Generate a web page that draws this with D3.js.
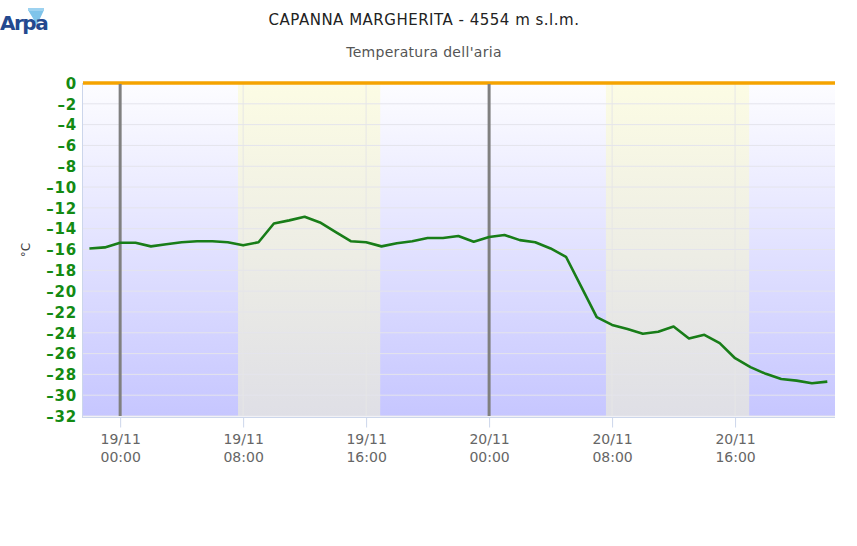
<!DOCTYPE html>
<meta charset="utf-8">
<style>
body { margin: 0; background: #fff; }
text { font-family: 'DejaVu Sans', sans-serif; }
.axis--y text { font-size: 15px; font-weight: bold; fill: #138a13; letter-spacing: 0.8px; }
.axis--x text { font-size: 14px; fill: #666; }
</style>
<svg id="chart" width="857" height="546"></svg>
<script src="https://cdn.jsdelivr.net/npm/d3@7"></script>
<script>

var temps = [
    -15.9, -15.8,
    -15.35, -15.35, -15.7, -15.5, -15.3, -15.2, -15.2, -15.3, -15.6, -15.3, -13.5, -13.2,
    -12.85, -13.4, -14.3, -15.2, -15.3, -15.7, -15.4, -15.2, -14.9, -14.9, -14.7, -15.25,
    -14.8, -14.6, -15.1, -15.3, -15.9, -16.7, -19.6, -22.5, -23.25, -23.65, -24.1, -23.9,
    -23.4, -24.55, -24.2, -25.0, -26.45, -27.3, -27.95, -28.45, -28.6, -28.85, -28.7
];
var firstHour = "2019-11-18T22:00";
var dayBands = [["2019-11-19T07:40", "2019-11-19T16:55"], ["2019-11-20T07:36", "2019-11-20T16:55"]];
var midnightLines = ["2019-11-19T00:00", "2019-11-20T00:00"];
var xTicks = ["2019-11-19T00:00", "2019-11-19T08:00", "2019-11-19T16:00",
              "2019-11-20T00:00", "2019-11-20T08:00", "2019-11-20T16:00"];
var yTicks = d3.range(-32, 1, 2);

var parse = d3.isoParse;
var svg = d3.select("#chart"),
    plot = {left: 83, right: 835, top: 83, bottom: 416};

var hours = d3.timeHour.range(parse(firstHour), d3.timeHour.offset(parse(firstHour), temps.length));
var data = hours.map(function(t, i) { return {t: t, v: temps[i]}; });

var x = d3.scaleTime()
    .domain([parse("2019-11-18T21:35"), parse("2019-11-20T22:30")])
    .range([plot.left, plot.right]);
var y = d3.scaleLinear().domain([-32, 0]).range([plot.bottom, plot.top]);

var defs = svg.append("defs");
function grad(id, c0, c1) {
    var g = defs.append("linearGradient").attr("id", id)
        .attr("x1", 0).attr("y1", 0).attr("x2", 0).attr("y2", 1);
    g.append("stop").attr("offset", "0%").attr("stop-color", c0);
    g.append("stop").attr("offset", "100%").attr("stop-color", c1);
}
grad("nightGrad", "#fdfdff", "#c6c6ff");
grad("dayGrad", "#fcfce4", "#dfdfe6");

// background
svg.append("rect")
    .attr("x", plot.left).attr("y", plot.top)
    .attr("width", plot.right - plot.left).attr("height", plot.bottom - plot.top)
    .attr("fill", "url(#nightGrad)");

svg.selectAll(".band").data(dayBands).enter().append("rect")
    .attr("class", "band")
    .attr("x", function(d) { return x(parse(d[0])); })
    .attr("y", plot.top)
    .attr("width", function(d) { return x(parse(d[1])) - x(parse(d[0])); })
    .attr("height", plot.bottom - plot.top)
    .attr("fill", "url(#dayGrad)");

// grid
svg.append("g").selectAll("line").data(yTicks).enter().append("line")
    .attr("x1", plot.left).attr("x2", plot.right)
    .attr("y1", function(d) { return y(d); }).attr("y2", function(d) { return y(d); })
    .attr("stroke", "#e4e4ec").attr("stroke-width", 1);

svg.append("g").selectAll("line").data(xTicks).enter().append("line")
    .attr("x1", function(d) { return x(parse(d)); }).attr("x2", function(d) { return x(parse(d)); })
    .attr("y1", plot.top).attr("y2", plot.bottom)
    .attr("stroke", "#e6e6e6").attr("stroke-width", 1);

// axes
var yAxis = svg.append("g")
    .attr("class", "axis axis--y")
    .attr("transform", "translate(" + (plot.left - 6) + ",0)")
    .call(d3.axisLeft(y).tickValues(yTicks).tickSize(0).tickPadding(0)
        .tickFormat(function(d) { return d === 0 ? "0" : "\u2013" + Math.abs(d); }));
yAxis.select(".domain").remove();
yAxis.selectAll("text").attr("dy", "0.35em");

svg.append("line")
    .attr("x1", plot.left - 0.5).attr("x2", plot.left - 0.5)
    .attr("y1", plot.top).attr("y2", plot.bottom + 2)
    .attr("stroke", "#ccd6eb").attr("stroke-width", 1);

var xAxis = svg.append("g")
    .attr("class", "axis axis--x")
    .attr("transform", "translate(0," + (plot.bottom + 1.5) + ")")
    .call(d3.axisBottom(x).tickValues(xTicks.map(parse)).tickSize(10).tickPadding(6).tickFormat(""));
xAxis.select(".domain").attr("stroke", "#ccd6eb").attr("d", "M" + plot.left + ",0H" + plot.right);
xAxis.selectAll(".tick line").attr("stroke", "#ccd6eb");
var fmtD = d3.timeFormat("%d/%m"), fmtH = d3.timeFormat("%H:%M");
xAxis.selectAll(".tick").each(function(d) {
    var t = d3.select(this).append("text").attr("text-anchor", "middle").attr("fill", "#666");
    t.append("tspan").attr("x", 0).attr("y", 26).text(fmtD(d));
    t.append("tspan").attr("x", 0).attr("y", 44).text(fmtH(d));
});

// plot lines
svg.append("line")
    .attr("x1", plot.left).attr("x2", plot.right)
    .attr("y1", y(0)).attr("y2", y(0))
    .attr("stroke", "#f5a300").attr("stroke-width", 3.5);

svg.selectAll(".midnight").data(midnightLines).enter().append("line")
    .attr("class", "midnight")
    .attr("x1", function(d) { return x(parse(d)); }).attr("x2", function(d) { return x(parse(d)); })
    .attr("y1", plot.top + 1).attr("y2", plot.bottom)
    .attr("stroke", "#808080").attr("stroke-width", 3);

// series
svg.append("path")
    .datum(data)
    .attr("fill", "none")
    .attr("stroke", "#187d18")
    .attr("stroke-width", 2.6)
    .attr("stroke-linejoin", "round")
    .attr("d", d3.line().x(function(d) { return x(d.t); }).y(function(d) { return y(d.v); }));

// titles
svg.append("text").attr("x", 424).attr("y", 25).attr("text-anchor", "middle")
    .attr("fill", "#222").style("font-size", "15px").style("letter-spacing", "0.5px")
    .text("CAPANNA MARGHERITA - 4554 m s.l.m.");
svg.append("text").attr("x", 424).attr("y", 57).attr("text-anchor", "middle")
    .attr("fill", "#555").style("font-size", "14px").style("letter-spacing", "0.3px")
    .text("Temperatura dell'aria");
svg.append("text").attr("transform", "translate(30,250) rotate(-90)")
    .attr("text-anchor", "middle").attr("fill", "#444").style("font-size", "12px")
    .text("\u00b0C");

// logo
var logo = svg.append("g").attr("transform", "translate(0,0)");
logo.append("path").attr("d", "M28,10 L44,10 L37,25 Z").attr("fill", "#7fc4ea");
logo.append("rect").attr("x", 28).attr("y", 8).attr("width", 16).attr("height", 3).attr("fill", "#9dd2f0");
logo.append("text").attr("x", 0).attr("y", 30)
    .attr("fill", "#24498f").style("font-size", "20px").style("font-weight", "bold")
    .style("letter-spacing", "-1.5px").text("Arpa");

</script>
